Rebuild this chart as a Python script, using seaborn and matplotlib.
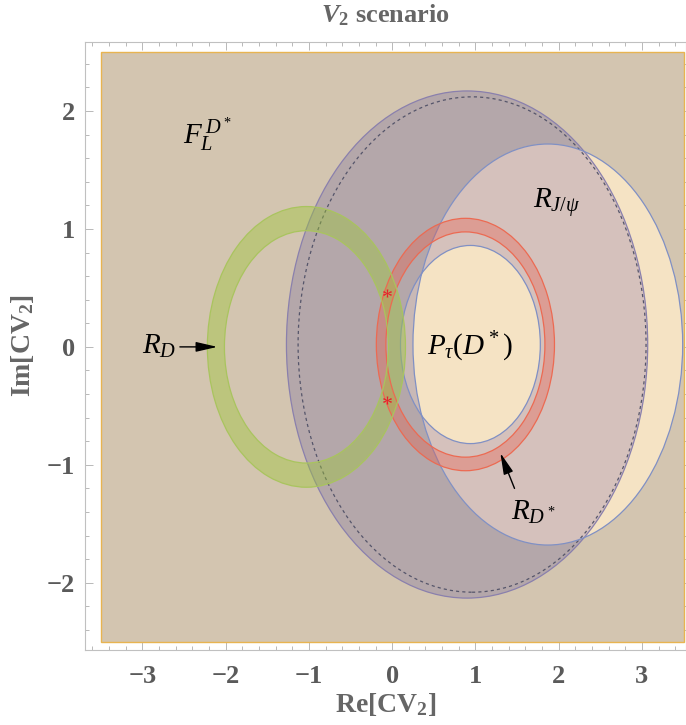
import numpy as np
import pandas as pd
import matplotlib
matplotlib.use("Agg")
import matplotlib.pyplot as plt
from matplotlib.patches import Ellipse, Annulus, Rectangle
from matplotlib.ticker import MultipleLocator
import seaborn as sns

# Scan window of the complex coupling CV2
re_range = [-3.5, 3.5]
im_range = [-2.5, 2.5]

# Allowed regions in the (Re, Im) plane: centre Re, centre Im, semi-axis Re, semi-axis Im
ptau_outer = [0.90, 0.02, 2.17, 2.15]
ptau_outer_dashed = [0.96, 0.02, 2.09, 2.10]
ptau_inner = [0.94, 0.02, 0.84, 0.84]
rjpsi = [1.87, 0.02, 1.62, 1.70]

# Ring-shaped 1-sigma bands: centre Re, centre Im, inner radius, outer radius
rdstar_ring = [0.88, 0.02, 0.955, 1.07]
rd_ring = [-1.03, 0.00, 0.985, 1.19]

# Points allowed simultaneously by R_D and R_D*
common_re = [-0.06, -0.06]
common_im = [0.46, -0.45]

# Axis ticks
xticks = [-3, -2, -1, 0, 1, 2, 3]
yticks = [-2, -1, 0, 1, 2]

sns.set_style("ticks")
plt.rcParams["font.family"] = ["Liberation Serif", "DejaVu Serif"]
plt.rcParams["mathtext.fontset"] = "custom"
plt.rcParams["mathtext.rm"] = "Liberation Serif"
plt.rcParams["mathtext.it"] = "Liberation Serif:italic"
plt.rcParams["mathtext.bf"] = "Liberation Serif:bold"
plt.rcParams["mathtext.bfit"] = "Liberation Serif:bold:italic"

TAN = "#d3c5b0"
PURPLE = "#b4a7aa"
PINK = "#d5c1bc"
CREAM = "#f5e3c4"
GREYPINK = "#c9b9b6"
EDGE_PURPLE = "#8a80ad"
EDGE_BLUE = "#8090c4"

fig = plt.figure(figsize=(6.86, 7.25), dpi=100)
ax = fig.add_axes([85 / 686, 1 - 650 / 725, 601 / 686, 608 / 725])
ax.set_xlim(-3.69, 3.53)
ax.set_ylim(-2.57, 2.585)


def ell(p, **kw):
    return Ellipse((p[0], p[1]), 2 * p[2], 2 * p[3], **kw)


# F_L(D*) region covers the whole window
ax.add_patch(Rectangle((re_range[0], im_range[0]), re_range[1] - re_range[0],
                       im_range[1] - im_range[0], facecolor=TAN,
                       edgecolor="#e8b450", lw=1.0, zorder=1))

# P_tau(D*) outer boundary
big = ell(ptau_outer, facecolor=PURPLE, edgecolor="none", zorder=2)
ax.add_patch(big)

# R_J/psi region
ax.add_patch(ell(rjpsi, facecolor=CREAM, edgecolor="none", zorder=3))
rj_in_big = ell(rjpsi, facecolor=PINK, edgecolor="none", zorder=3.1)
ax.add_patch(rj_in_big)
rj_in_big.set_clip_path(big)

# P_tau(D*) inner boundary
ax.add_patch(ell(ptau_inner, facecolor=GREYPINK, edgecolor="none", zorder=4))
rj_clip = ell(rjpsi, facecolor="none", edgecolor="none")
ax.add_patch(rj_clip)
rj_clip.set_visible(False)
inner_rj = ell(ptau_inner, facecolor=CREAM, edgecolor="none", zorder=4.1)
ax.add_patch(inner_rj)
inner_rj.set_clip_path(rj_clip)

# Boundaries
ax.add_patch(ell(ptau_outer, facecolor="none", edgecolor=EDGE_PURPLE, lw=0.9, zorder=5))
ax.add_patch(ell(ptau_outer_dashed, facecolor="none", edgecolor="#55556a", lw=0.9,
                 ls=(0, (2.5, 2.5)), zorder=5))
ax.add_patch(ell(rjpsi, facecolor="none", edgecolor=EDGE_BLUE, lw=0.9, zorder=5))
ax.add_patch(ell(ptau_inner, facecolor="none", edgecolor=EDGE_BLUE, lw=0.9, zorder=5))

# R_D* and R_D bands
for ring, face, edge in [(rdstar_ring, (0.93, 0.33, 0.25, 0.32), "#ec6a52"),
                         (rd_ring, (0.62, 0.78, 0.22, 0.42), "#a9c45e")]:
    ax.add_patch(Annulus((ring[0], ring[1]), ring[3], ring[3] - ring[2],
                         facecolor=face, edgecolor="none", zorder=6))
    ax.add_patch(Annulus((ring[0], ring[1]), ring[3], ring[3] - ring[2],
                         facecolor="none", edgecolor=edge, lw=0.9, zorder=6.1))

pts = pd.DataFrame({"re": common_re, "im": common_im})
sns.scatterplot(data=pts, x="re", y="im", marker="$*$", color="#e8202a",
                s=40, linewidth=0, ax=ax, zorder=7)

# Region labels
txt = dict(color="black", fontsize=21, zorder=8, ha="center", va="center")
ax.text(-2.22, 1.80, r"$F_L^{\,D^*}$", **txt)
ax.text(-2.80, 0.0, r"$R_D$", **txt)
ax.text(0.93, 0.0, r"$P_\tau(D^*)$", **txt)
ax.text(1.98, 1.22, r"$R_{J/\psi}$", **txt)
ax.text(1.70, -1.40, r"$R_{D^*}$", **txt)

arrow = dict(arrowstyle="-|>,head_length=1.3,head_width=0.3", color="black",
             lw=1.0, shrinkA=0, shrinkB=0)
ax.annotate("", xy=(-2.10, 0.0), xytext=(-2.55, 0.0), arrowprops=arrow, zorder=8)
ax.annotate("", xy=(1.30, -0.90), xytext=(1.47, -1.20), arrowprops=arrow, zorder=8)

# Frame and ticks
ax.set_xticks(xticks)
ax.set_yticks(yticks)
ax.xaxis.set_minor_locator(MultipleLocator(0.2))
ax.yaxis.set_minor_locator(MultipleLocator(0.2))
ax.set_xticklabels([f"{t}".replace("-", "\u2212") for t in xticks])
ax.set_yticklabels([f"{t}".replace("-", "\u2212") for t in yticks])
ax.tick_params(which="both", direction="in", top=True, right=True, color="#b8b8b8",
               width=0.7)
ax.tick_params(which="major", length=6, labelsize=19, labelcolor="#5a5a5a")
ax.tick_params(axis="x", which="major", pad=11)
ax.tick_params(axis="y", which="major", pad=7)
ax.tick_params(which="minor", length=3)
for lab in ax.get_xticklabels() + ax.get_yticklabels():
    lab.set_fontweight("bold")
for s in ax.spines.values():
    s.set_color("#c0c0c0")
    s.set_linewidth(0.8)

ax.set_xlabel(r"Re[CV$_\mathbf{2}$]", fontsize=20, fontweight="bold", color="#666666",
              labelpad=2)
ax.set_ylabel(r"Im[CV$_\mathbf{2}$]", fontsize=20, fontweight="bold", color="#666666",
              labelpad=8)
ax.set_title(r"$\mathbfit{V}_\mathbf{2}$ scenario", fontsize=19, fontweight="bold",
             color="#666666", pad=14)

fig.savefig("out.png", dpi=100)
